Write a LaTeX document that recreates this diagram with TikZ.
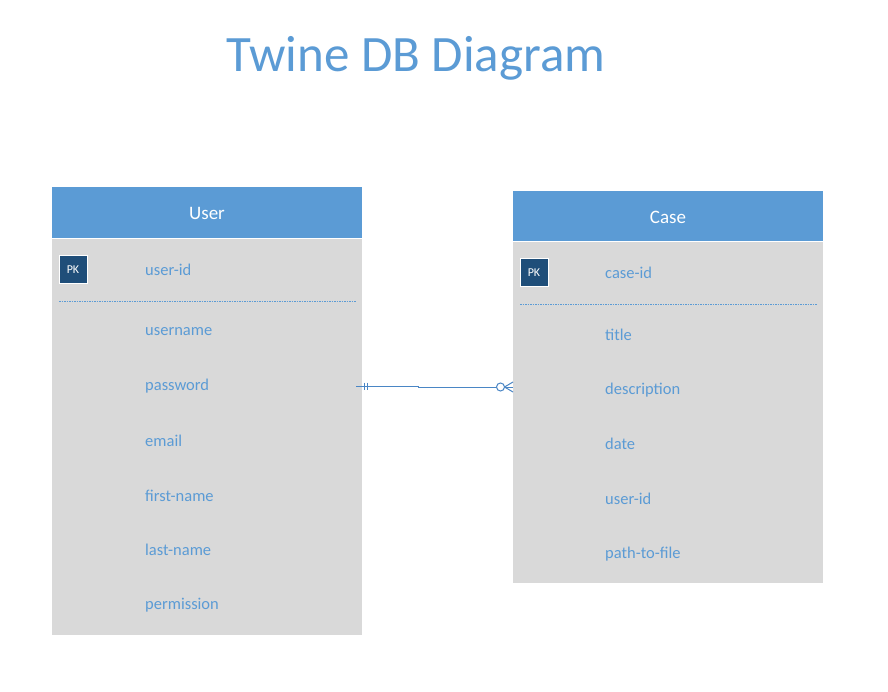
\documentclass[tikz,border=0pt]{standalone}
\usepackage{fontspec}
\setmainfont{Carlito}
\definecolor{hdr}{HTML}{5B9BD5}
\definecolor{bodyg}{HTML}{D9D9D9}
\definecolor{pkc}{HTML}{1F4E79}
\definecolor{txt}{HTML}{5B9BD5}
\definecolor{lnc}{HTML}{4A86C5}
\begin{document}
\begin{tikzpicture}[x=1pt,y=-1pt,
  header/.style={fill=hdr,draw=none},
  tbody/.style={fill=bodyg,draw=none},
  hdrtext/.style={text=white,font=\fontsize{19}{22}\selectfont,anchor=center},
  field/.style={text=txt,font=\fontsize{16.5}{19}\selectfont,anchor=west,inner sep=0pt},
  pkbox/.style={fill=pkc,draw=white,line width=1pt,minimum width=28pt,minimum height=28pt,inner sep=0pt,text=white,font=\fontsize{12}{14}\selectfont},
  sep/.style={draw=txt,dash pattern=on 1.5pt off 1pt,line width=0.8pt},
  rel/.style={draw=lnc,line width=1pt}]
\useasboundingbox (0,0) rectangle (888,692);
\fill[white] (0,0) rectangle (888,692);
% title
\node[text=txt,font=\fontsize{51}{60}\selectfont,anchor=center] (title) at (416,58) {Twine DB Diagram};
% User table
\fill[tbody] (52,239) rectangle (362,635);
\fill[header] (52,187) rectangle (362,238);
\node[hdrtext] (uhead) at (207,213) {User};
\node[pkbox] (upk) at (73,270) {PK};
\node[field] (uid) at (145,270) {user-id};
\draw[sep] (59,301) -- (356,301);
\node[field] (uname) at (145,332) {username};
\node[field] (upass) at (145,386) {password};
\node[field] (umail) at (145,441) {email};
\node[field] (ufirst) at (145,496) {first-name};
\node[field] (ulast) at (145,550) {last-name};
\node[field] (uperm) at (145,605) {permission};
% Case table
\fill[tbody] (513,242) rectangle (823,583);
\fill[header] (513,191) rectangle (823,241);
\node[hdrtext] (chead) at (668,217) {Case};
\node[pkbox] (cpk) at (534,273) {PK};
\node[field] (cid) at (605,273) {case-id};
\draw[sep] (520,304) -- (817,304);
\node[field] (ctitle) at (605,335) {title};
\node[field] (cdesc) at (605,390) {description};
\node[field] (cdate) at (605,444) {date};
\node[field] (cuid) at (605,499) {user-id};
\node[field] (cpath) at (605,554) {path-to-file};
% relationship
\coordinate (ra) at (356,386);
\coordinate (rm1) at (418,386);
\coordinate (rm2) at (418,387);
\coordinate (rb) at (513,387);
\draw[rel] (ra) -- (rm1) -- (rm2) -- (496.5,387);
\draw[rel] (364,382.5) -- (364,390);
\draw[rel] (367,382.5) -- (367,390);
\draw[rel,fill=white] (500.5,387) circle (4);
\draw[rel] (504.5,387) -- (rb);
\draw[rel] (504.5,387) -- (513,382);
\draw[rel] (504.5,387) -- (513,392);
\end{tikzpicture}
\end{document}
